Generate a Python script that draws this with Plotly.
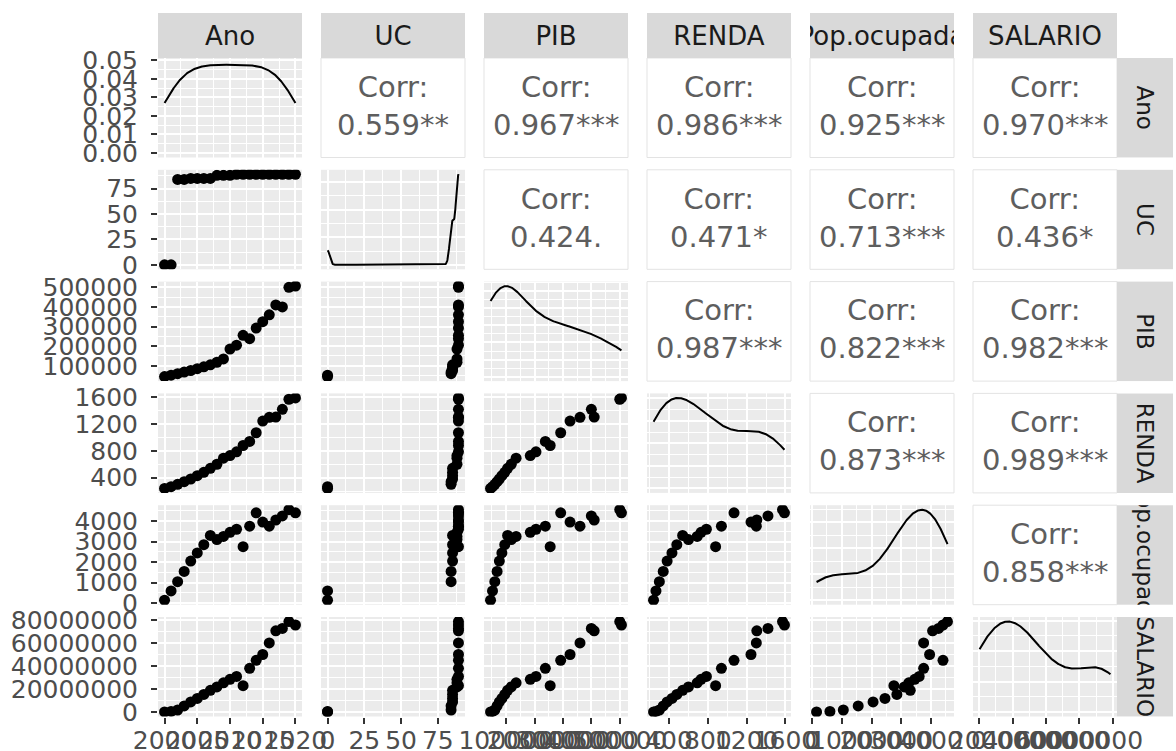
import numpy as np
import plotly.graph_objects as go

W, H = 1176, 751

# ---------------- data ----------------
names = ["Ano", "UC", "PIB", "RENDA", "Pop.ocupada", "SALARIO"]

ano = list(range(2000, 2021))
uc = [0, 0, 84, 84, 85, 85, 85, 85, 88, 88, 88, 89, 89, 89, 89, 89, 89, 89, 89, 89, 89]
pib = [45000, 52000, 60000, 68000, 76000, 85000, 95000, 105000, 118000, 135000,
       185000, 205000, 255000, 238000, 292000, 325000, 360000, 410000, 400000, 500000, 506000]
renda = [240, 265, 300, 340, 380, 430, 480, 540, 600, 690,
         730, 785, 880, 940, 1070, 1245, 1300, 1305, 1420, 1570, 1590]
pop_ocupada = [150, 600, 1050, 1550, 2050, 2450, 2850, 3300, 3100, 3250,
               3450, 3600, 2750, 3750, 4400, 3950, 3750, 4050, 4250, 4550, 4400]
salario = [300000, 800000, 2000000, 5500000, 9000000, 12000000, 15500000, 19000000, 22000000, 25500000,
           28500000, 31000000, 23000000, 38000000, 45000000, 50000000, 60000000, 70500000, 72500000,
           78500000, 75500000]

series = [ano, uc, pib, renda, pop_ocupada, salario]

corr_labels = {
    (0, 1): "0.559**", (0, 2): "0.967***", (0, 3): "0.986***", (0, 4): "0.925***", (0, 5): "0.970***",
    (1, 2): "0.424.", (1, 3): "0.471*", (1, 4): "0.713***", (1, 5): "0.436*",
    (2, 3): "0.987***", (2, 4): "0.822***", (2, 5): "0.982***",
    (3, 4): "0.873***", (3, 5): "0.989***",
    (4, 5): "0.858***",
}

ano_ticks = [2000, 2005, 2010, 2015, 2020]
uc_ticks = [0, 25, 50, 75]
pib_ticks = [100000, 200000, 300000, 400000, 500000]
renda_ticks = [400, 800, 1200, 1600]
pop_ticks = [0, 1000, 2000, 3000, 4000]
salario_ticks = [0, 20000000, 40000000, 60000000, 80000000]
var_ticks = [ano_ticks, uc_ticks, pib_ticks, renda_ticks, pop_ticks, salario_ticks]
density_ticks = [0.00, 0.01, 0.02, 0.03, 0.04, 0.05]
density_ticktext = ["0.00", "0.01", "0.02", "0.03", "0.04", "0.05"]
row1_density_top = 0.0488   # upper limit of the density scale shown on the first row

# ---------------- helpers ----------------
FONT = "DejaVu Sans"
TICK_FONT = dict(family=FONT, size=25, color="#4D4D4D")


def expand(lo, hi, f=0.05):
    r = hi - lo
    return [lo - f * r, hi + f * r]


def kde_nrd0(v, n=512):
    v = np.asarray(v, dtype=float)
    sd = v.std(ddof=1)
    q75, q25 = np.percentile(v, [75, 25])
    lo = min(sd, (q75 - q25) / 1.34)
    if lo <= 0:
        lo = sd
    bw = 0.9 * lo * len(v) ** (-0.2)
    xs = np.linspace(v.min(), v.max(), n)
    d = np.exp(-0.5 * ((xs[:, None] - v[None, :]) / bw) ** 2).sum(axis=1) / (len(v) * bw * np.sqrt(2 * np.pi))
    return xs, d


def nice_breaks(lo, hi, n=5):
    span = hi - lo
    raw = span / n
    mag = 10 ** np.floor(np.log10(raw))
    best = None
    for m in [1, 2, 2.5, 5, 10]:
        step = m * mag
        start = np.ceil(lo / step) * step
        br = np.arange(start, hi + 1e-9 * span, step)
        score = abs(len(br) - n)
        if best is None or score < best[0]:
            best = (score, list(br))
    return best[1]


def minor_breaks(br, rng):
    if len(br) < 2:
        return []
    s = br[1] - br[0]
    ext = [br[0] - s] + list(br) + [br[-1] + s]
    mids = [(a + b) / 2 for a, b in zip(ext[:-1], ext[1:])]
    return [m for m in mids if rng[0] <= m <= rng[1]]


# ---------------- geometry ----------------
col_left = [158 + 163 * j for j in range(6)]
col_w = 144
row_top = [58 + 111.8 * i for i in range(6)]
row_h = 99.5
strip_top = (13, 58)
strip_right = (1117, 1173)


def xdom(l, r):
    return [l / W, r / W]


def ydom(t, b):
    return [1 - b / H, 1 - t / H]


ranges = [expand(min(s), max(s)) for s in series]
densities = [kde_nrd0(s) for s in series]

fig = go.Figure()
layout = dict(
    width=W, height=H,
    margin=dict(l=0, r=0, t=0, b=0, autoexpand=False),
    paper_bgcolor="white", plot_bgcolor="#EBEBEB",
    showlegend=False,
    shapes=[], annotations=[],
)

GRID = dict(gridcolor="white", gridwidth=1.6)
MINOR = lambda vals: dict(tickmode="array", tickvals=vals, showgrid=True, gridcolor="white", gridwidth=0.9, ticks="")

for i in range(6):
    for j in range(6):
        n = i * 6 + j + 1
        xa = "xaxis" if n == 1 else f"xaxis{n}"
        ya = "yaxis" if n == 1 else f"yaxis{n}"
        xr = "x" if n == 1 else f"x{n}"
        yr = "y" if n == 1 else f"y{n}"
        l, r = col_left[j], col_left[j] + col_w
        t, b = row_top[i], row_top[i] + row_h
        xd, yd = xdom(l, r), ydom(t, b)

        if j > i:
            # correlation panel
            layout[xa] = dict(domain=xd, anchor=yr, range=[0, 1], visible=False, fixedrange=True)
            layout[ya] = dict(domain=yd, anchor=xr, range=[0, 1], visible=False, fixedrange=True)
            layout["shapes"].append(dict(type="rect", xref="paper", yref="paper",
                                         x0=xd[0], x1=xd[1], y0=yd[0], y1=yd[1],
                                         fillcolor="white", line=dict(color="#E3E3E3", width=1),
                                         layer="below"))
            layout["annotations"].append(dict(
                x=(xd[0] + xd[1]) / 2, y=(yd[0] + yd[1]) / 2 + 2 / H, xref="paper", yref="paper",
                text=f"Corr:<br>{corr_labels[(i, j)]}", showarrow=False,
                xanchor="center", yanchor="middle", align="center",
                font=dict(family=FONT, size=29, color="#5E5E5E")))
            continue

        xrng = ranges[j]
        xt = var_ticks[j]
        xaxis = dict(domain=xd, anchor=yr, range=xrng, zeroline=False, showline=False,
                     tickmode="array", tickvals=xt, ticktext=[str(v) for v in xt],
                     showgrid=True, **GRID, minor=MINOR(minor_breaks(xt, xrng)),
                     fixedrange=True)
        if i == 5:
            xaxis.update(showticklabels=True, ticks="outside", ticklen=6, tickwidth=1.5,
                         tickcolor="#333333", tickfont=TICK_FONT, ticklabelstandoff=-5,
                         tickangle=0)
        else:
            xaxis.update(showticklabels=False, ticks="")

        if i == j:
            xs, d = densities[j]
            M = float(d.max())
            if i == 0:
                yrng = expand(0, max(M, row1_density_top))
                yt, ytt = density_ticks, density_ticktext
            else:
                yrng = [-0.05 * M, 1.05 * M]
                yt = nice_breaks(yrng[0], yrng[1], 5)
                ytt = [""] * len(yt)
            fig.add_trace(go.Scatter(x=xs, y=d, mode="lines", line=dict(color="black", width=2),
                                     xaxis=xr, yaxis=yr, hoverinfo="skip"))
        else:
            yrng = ranges[i]
            yt = var_ticks[i]
            ytt = [str(v) for v in yt]
            fig.add_trace(go.Scatter(x=series[j], y=series[i], mode="markers",
                                     marker=dict(color="black", size=11, line=dict(width=0)),
                                     xaxis=xr, yaxis=yr, hoverinfo="skip"))

        yaxis = dict(domain=yd, anchor=xr, range=yrng, zeroline=False, showline=False,
                     tickmode="array", tickvals=yt, ticktext=ytt,
                     showgrid=True, **GRID, minor=MINOR(minor_breaks(yt, yrng)),
                     fixedrange=True)
        if j == 0:
            yaxis.update(showticklabels=True, ticks="outside", ticklen=6, tickwidth=1.5,
                         tickcolor="#333333", tickfont=TICK_FONT, ticklabelstandoff=8,
                         tickangle=0)
        else:
            yaxis.update(showticklabels=False, ticks="")
        layout[xa] = xaxis
        layout[ya] = yaxis

# ---------------- strips (clipped text, like ggplot) ----------------
for k in range(12):
    n = 37 + k
    if k < 6:
        xd = xdom(col_left[k], col_left[k] + col_w)
        yd = ydom(strip_top[0], strip_top[1])
        label, angle, size = names[k], 0, 26
    else:
        i = k - 6
        xd = xdom(strip_right[0], strip_right[1])
        yd = ydom(row_top[i], row_top[i] + row_h)
        label, angle, size = names[i], 90, 23
    layout[f"xaxis{n}"] = dict(domain=xd, anchor=f"y{n}", range=[-0.5, 0.5], visible=False, fixedrange=True)
    layout[f"yaxis{n}"] = dict(domain=yd, anchor=f"x{n}", range=[0, 1], visible=False, fixedrange=True)
    fig.add_trace(go.Bar(x=[0], y=[1], width=[1], xaxis=f"x{n}", yaxis=f"y{n}",
                         marker=dict(color="#D9D9D9", line=dict(width=0)),
                         text=[label], textposition="inside", insidetextanchor="middle",
                         textangle=angle, constraintext="none", cliponaxis=True,
                         insidetextfont=dict(family=FONT, size=size, color="#1A1A1A"),
                         hoverinfo="skip"))

fig.update_layout(**layout)
fig.write_html("out.html", config={"displayModeBar": False},
               post_script="document.body.style.margin='0px';")
